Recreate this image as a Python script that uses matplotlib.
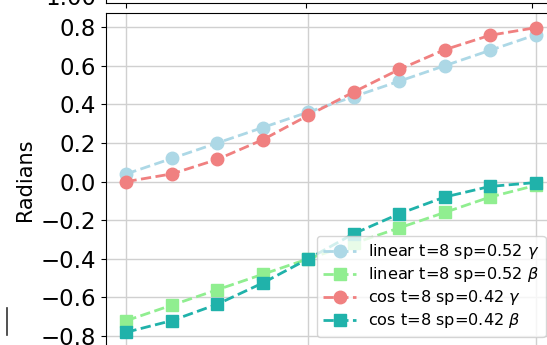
import matplotlib.pyplot as plt
from matplotlib.lines import Line2D

# x positions (layers / steps)
steps = [1, 2, 3, 4, 5, 6, 7, 8, 9, 10]

# linear schedule t=8 sp=0.52
linear_gamma = [0.04, 0.12, 0.20, 0.28, 0.36, 0.44, 0.52, 0.60, 0.68, 0.76]
linear_beta = [-0.72, -0.64, -0.56, -0.48, -0.40, -0.32, -0.24, -0.16, -0.08, -0.02]

# cos schedule t=8 sp=0.42
cos_gamma = [0.0, 0.04, 0.115, 0.217, 0.343, 0.464, 0.581, 0.683, 0.758, 0.797]
cos_beta = [-0.78, -0.72, -0.635, -0.525, -0.40, -0.27, -0.167, -0.08, -0.025, -0.005]

labels = [r'linear t=8 sp=0.52 $\gamma$', r'linear t=8 sp=0.52 $\beta$',
          r'cos t=8 sp=0.42 $\gamma$', r'cos t=8 sp=0.42 $\beta$']

W, H = 547, 345
fig = plt.figure(figsize=(W / 100, H / 100), dpi=100)

# main axes (the crop cuts its bottom and right side)
ax = fig.add_axes([106 / W, (H - 347.4) / H, 450 / W, 334.9 / H])
ax.plot(steps, linear_gamma, '--o', color='lightblue', lw=2, ms=9, label=labels[0])
ax.plot(steps, linear_beta, '--s', color='lightgreen', lw=2, ms=9, label=labels[1])
ax.plot(steps, cos_gamma, '--o', color='lightcoral', lw=2, ms=9, label=labels[2])
ax.plot(steps, cos_beta, '--s', color='lightseagreen', lw=2, ms=9, label=labels[3])
ax.set_xticks([1, 5, 10])
ax.set_yticks([-0.8, -0.6, -0.4, -0.2, 0.0, 0.2, 0.4, 0.6, 0.8])
ax.tick_params(labelsize=16.5, labelbottom=False)
ax.set_ylabel('Radians', fontsize=15)
ax.grid(True, color='#d0d0d0', lw=1.0)
ax.legend(loc='lower right', fontsize=11.6, labelspacing=0.25, handletextpad=0.75,
          borderaxespad=0.65)

# neighbouring panel above (only its bottom edge shows)
top = fig.add_axes([106 / W, (H - 3.3) / H, 446 / W, 100 / H])
top.set_xlim(0.55, 10.45)
top.set_xticks([1, 5, 10])
top.set_xticklabels([])
top.set_ylim(0.984, 1.2)
top.set_yticks([1.0])
top.set_yticklabels(['1.00'])
top.tick_params(labelsize=16.5)

# edge of the panel on the left
fig.add_artist(Line2D([6.5 / W, 6.5 / W], [(H - 335) / H, (H - 308) / H],
                      color='#333333', lw=1.2))

fig.savefig('out.png', dpi=100)
